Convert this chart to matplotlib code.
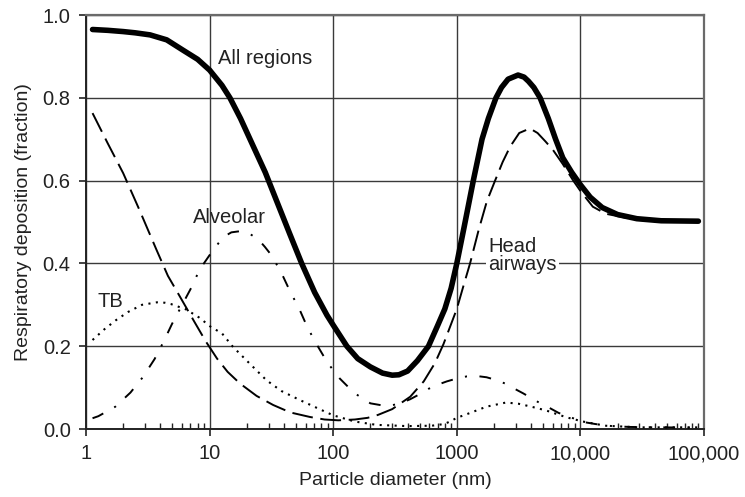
import numpy as np
import matplotlib
matplotlib.use("Agg")
import matplotlib.pyplot as plt
from matplotlib.ticker import LogLocator, NullFormatter

plt.rcParams['font.family'] = ['Liberation Sans', 'DejaVu Sans']
plt.rcParams['lines.scale_dashes'] = False

# ------------------------------------------------------
# Values (diameter in nm, deposition fraction)

all_d = [1.13, 1.5, 2.0, 2.5, 3.3, 4.5, 6.1, 8, 10, 12.6, 14.6, 17.8, 22.4,
         28.2, 35.5, 44.7, 55.6, 70.8, 89, 100, 129, 158, 200, 251, 300, 340,
         400, 480, 590, 700, 800, 900, 1000, 1150, 1360, 1600, 1800, 2075,
         2300, 2600, 3130, 3500, 3800, 4200, 4720, 5500, 6300, 7200, 8500,
         10000, 12000, 15000, 20000, 28600, 45000, 90000]
all_f = [0.965, 0.963, 0.960, 0.957, 0.952, 0.94, 0.915, 0.893, 0.867, 0.83,
         0.80, 0.75, 0.685, 0.62, 0.545, 0.47, 0.40, 0.33, 0.275, 0.251, 0.20,
         0.17, 0.15, 0.135, 0.130, 0.131, 0.14, 0.165, 0.20, 0.25, 0.29, 0.34,
         0.40, 0.49, 0.60, 0.70, 0.75, 0.80, 0.825, 0.845, 0.855, 0.85, 0.84,
         0.825, 0.80, 0.75, 0.70, 0.655, 0.62, 0.59, 0.56, 0.535, 0.518, 0.508,
         0.503, 0.502]

head_d = [1.13, 1.5, 2.0, 2.7, 3.73, 4.6, 5.75, 7.5, 9.3, 11.5, 14, 17.6, 24,
          32.7, 45, 65, 85, 110, 150, 190, 230, 300, 420, 540, 665, 780, 890,
          1000, 1130, 1280, 1500, 1750, 2040, 2350, 2700, 3200, 3900, 4500,
          5200, 6000, 7200, 8750, 10000, 12600, 16000, 28500, 90000]
head_f = [0.763, 0.69, 0.618, 0.53, 0.432, 0.37, 0.32, 0.26, 0.212, 0.17,
          0.138, 0.11, 0.08, 0.058, 0.04, 0.029, 0.023, 0.021, 0.023, 0.027,
          0.034, 0.048, 0.078, 0.115, 0.159, 0.205, 0.25, 0.29, 0.345, 0.40,
          0.48, 0.55, 0.60, 0.645, 0.682, 0.715, 0.726, 0.715, 0.695, 0.674,
          0.64, 0.60, 0.575, 0.537, 0.52, 0.505, 0.50]

alv_d = [1.13, 1.26, 1.73, 2.29, 2.88, 3.59, 4.23, 4.97, 6.0, 7.16, 8.3, 10,
         12.8, 15, 17.8, 21, 24.8, 28, 31.6, 38, 44.7, 53.2, 62, 74, 90, 113,
         148, 200, 250, 295, 350, 420, 500, 590, 700, 830, 1000, 1200, 1450,
         1740, 2100, 2500, 2900, 3450, 4100, 4800, 5700, 6650, 8000, 9550,
         11000, 13200, 18000, 25000, 90000]
alv_f = [0.026, 0.031, 0.054, 0.088, 0.125, 0.169, 0.21, 0.254, 0.30, 0.343,
         0.385, 0.42, 0.463, 0.475, 0.478, 0.472, 0.458, 0.44, 0.42, 0.378,
         0.333, 0.29, 0.245, 0.203, 0.16, 0.122, 0.087, 0.062, 0.057, 0.057,
         0.062, 0.072, 0.084, 0.097, 0.107, 0.115, 0.122, 0.127, 0.128, 0.125,
         0.118, 0.109, 0.098, 0.086, 0.073, 0.061, 0.05, 0.039, 0.03, 0.022,
         0.016, 0.012, 0.007, 0.005, 0.003]

tb_d = [1.13, 1.41, 1.75, 2.2, 2.84, 3.75, 4.35, 4.85, 6.44, 8.26, 10.2,
        12.6, 15.4, 20, 28.8, 38, 53.7, 75, 100, 150, 224, 400, 630, 790, 880,
        1000, 1260, 1740, 2500, 3160, 4000, 5250, 7760, 10500, 15800, 30000,
        90000]
tb_f = [0.215, 0.241, 0.263, 0.283, 0.30, 0.306, 0.305, 0.302, 0.289, 0.269,
        0.247, 0.231, 0.199, 0.165, 0.118, 0.092, 0.07, 0.05, 0.033, 0.018,
        0.01, 0.007, 0.008, 0.012, 0.018, 0.027, 0.038, 0.054, 0.064, 0.061,
        0.054, 0.045, 0.028, 0.018, 0.008, 0.004, 0.004]

x_ticks = [1, 10, 100, 1000, 10000, 100000]
x_tick_labels = ['1', '10', '100', '1000', '10,000', '100,000']
y_ticks = [0.0, 0.2, 0.4, 0.6, 0.8, 1.0]
y_tick_labels = ['0.0', '0.2', '0.4', '0.6', '0.8', '1.0']

# ------------------------------------------------------

fig = plt.figure(figsize=(7.45, 4.97), dpi=100)
ax = fig.add_axes([0.1154, 0.1368, 0.8296, 0.833])

ax.plot(all_d, all_f, color='black', linewidth=4.0, solid_capstyle='round',
        solid_joinstyle='round', zorder=5)
ax.plot(head_d, head_f, color='black', linewidth=1.4, dashes=(15, 5.5), zorder=4)
ax.plot(alv_d, alv_f, color='black', linewidth=1.4,
        dashes=(8.5, 9.0, 1.5, 9.0), zorder=4)
ax.plot(tb_d, tb_f, color='black', linewidth=1.5, dashes=(1.5, 3.9), zorder=4)

ax.set_xscale('log')
ax.set_xlim(1, 100000)
ax.set_ylim(0, 1.0)

ax.set_xticks(x_ticks)
ax.set_xticklabels(x_tick_labels)
ax.set_yticks(y_ticks)
ax.set_yticklabels(y_tick_labels)
ax.xaxis.set_minor_locator(LogLocator(base=10, subs=np.arange(2, 10), numticks=20))
ax.xaxis.set_minor_formatter(NullFormatter())

ax.grid(True, which='major', color='#3a3a3a', linewidth=1.0, zorder=1)
ax.set_axisbelow(True)

ax.tick_params(axis='both', which='major', direction='out', length=5, width=1.2,
               labelsize=14.5, colors='#222222', pad=6)
ax.tick_params(axis='x', which='minor', direction='in', length=4, width=1.0,
               colors='#222222')

for side in ['left', 'bottom']:
    ax.spines[side].set_color('#222222')
    ax.spines[side].set_linewidth(1.4)
for side in ['top', 'right']:
    ax.spines[side].set_color('#6a6a6a')
    ax.spines[side].set_linewidth(1.6)

ax.set_xlabel('Particle diameter (nm)', fontsize=14, color='#222222', labelpad=6)
ax.set_ylabel('Respiratory deposition (fraction)', fontsize=14, color='#222222',
              labelpad=8)

# Curve labels
ax.text(11.7, 0.896, 'All regions', fontsize=14.5, ha='left', va='center',
        color='#222222', zorder=6)
ax.text(7.35, 0.512, 'Alveolar', fontsize=14.5, ha='left', va='center',
        color='#222222', zorder=6)
ax.text(1.23, 0.307, 'TB', fontsize=14.5, ha='left', va='center',
        color='#222222', zorder=6)
ax.text(1790, 0.42, 'Head\nairways', fontsize=14.5, ha='left', va='center',
        color='#222222', linespacing=0.95, zorder=6,
        bbox=dict(facecolor='white', edgecolor='none', pad=1.5))

fig.savefig('out.png', dpi=100)
